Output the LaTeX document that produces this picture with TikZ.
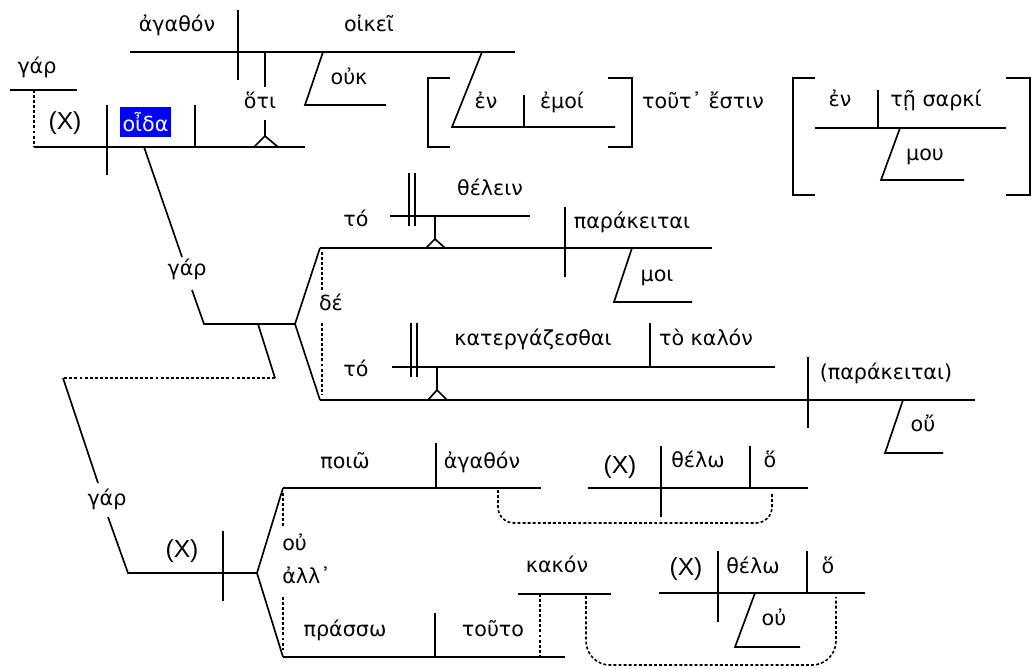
\documentclass[tikz,border=0pt]{standalone}
\usepackage{fontspec}
\setmainfont{DejaVu Sans}
\newfontfamily\latinfont{Liberation Sans}
\usetikzlibrary{calc}
\definecolor{hilite}{RGB}{0,0,255}
\tikzset{
  word/.style={anchor=mid, inner sep=0pt, font=\fontsize{15.5}{18}\selectfont},
  gap/.style={word, font=\latinfont\fontsize{18.5}{20}\selectfont},
  baseln/.style={line width=1.25pt},
  dotln/.style={line width=1.2pt, dash pattern=on 2.2pt off 1.6pt}
}

\begin{document}
\begin{tikzpicture}[x=0.75pt, y=-0.75pt]
\useasboundingbox (0,0) rectangle (1032,668);

% main clause: (X) oida
\draw[baseln] (10,90) -- (77,90);
\node[word] (gar1) at (37,70) {γάρ};
\draw[dotln] (34,90) -- (34,147);
\draw[baseln] (34,147) -- (305,147);
\draw[baseln] (107,105) -- (107,175);
\draw[baseln] (195,105) -- (195,147);
\node[gap] (subj1) at (65,126) {(X)};
\node[word, fill=hilite, text=white, minimum width=38pt, minimum height=22.5pt, anchor=center] (oida) at (145.5,122) {οἶδα};

% object clause on pedestal
\draw[baseln] (130,52) -- (515,52);
\draw[baseln] (238,10) -- (238,80);
\node[word] (agathon1) at (177,28) {ἀγαθόν};
\node[word] (oikei) at (369,28) {οἰκεῖ};
\draw[baseln] (323,52) -- (305,105) -- (386,105);
\node[word] (ouk) at (349,81) {οὐκ};
\draw[baseln] (265,52) -- (265,87);
\node[word] (hoti) at (260,105) {ὅτι};
\draw[baseln] (265,120) -- (265,136) (254,147) -- (265,136) -- (278,147);

% en emoi, in brackets
\draw[baseln] (482,52) -- (452,127) -- (615,127);
\draw[baseln] (524,95) -- (524,127);
\node[word] (en1) at (486,105) {ἐν};
\node[word] (emoi) at (562,105) {ἐμοί};
\draw[baseln] (450,78) -| (428,147) -- (450,147);
\draw[baseln] (608,78) -| (632,147) -- (608,147);
\node[word] (toutestin) at (703,105) {τοῦτ᾽ ἔστιν};

% en te sarki mou, in brackets
\draw[baseln] (815,78) -| (793,195) -- (815,195);
\draw[baseln] (1006,78) -| (1030,195) -- (1006,195);
\draw[baseln] (815,128) -- (1006,128);
\draw[baseln] (878,90) -- (878,128);
\node[word] (en2) at (840,103) {ἐν};
\node[word] (sarki) at (936,103) {τῇ σαρκί};
\draw[baseln] (900,128) -- (881,180) -- (964,180);
\node[word] (mou) at (925,157) {μου};

% gar: second clause
\draw[baseln] (144,147) -- (182,257);
\node[word] (gar2) at (187,272) {γάρ};
\draw[baseln] (192,290) -- (204,324) -- (295,324);
\draw[baseln] (258,324) -- (275,378);
\draw[dotln] (275,378) -- (63,378);
\draw[baseln] (320,248) -- (295,324) -- (320,400);
\draw[dotln] (322,252) -- (322,290) (322,323) -- (322,395);
\node[word] (de) at (331,307) {δέ};

% upper branch: to thelein parakeitai moi
\draw[baseln] (320,248) -- (712,248);
\draw[baseln] (565,207) -- (565,277);
\node[word] (parakeitai) at (632,225) {παράκειται};
\draw[baseln] (632,248) -- (614,302) -- (692,302);
\node[word] (moi) at (657,278) {μοι};
\node[word] (to1) at (356,223) {τό};
\draw[baseln] (390,216) -- (530,216);
\draw[baseln] (409,173) -- (409,226) (415,173) -- (415,226);
\node[word] (thelein) at (490,192) {θέλειν};
\draw[baseln] (435,216) -- (435,239) (426,248) -- (435,239) -- (445,248);

% lower branch: to katergazesthai to kalon (parakeitai) ou
\draw[baseln] (320,400) -- (975,400);
\draw[baseln] (808,357) -- (808,428);
\node[word] (parakeitai2) at (886,376) {(παράκειται)};
\draw[baseln] (903,400) -- (885,453) -- (943,453);
\node[word] (ou1) at (923,428) {οὔ};
\node[word] (to2) at (356,373) {τό};
\draw[baseln] (392,367) -- (775,367);
\draw[baseln] (411,323) -- (411,377) (417,323) -- (417,377);
\draw[baseln] (650,323) -- (650,367);
\node[word] (katerg) at (533,342) {κατεργάζεσθαι};
\node[word] (tokalon) at (706,342) {τὸ καλόν};
\draw[baseln] (437,367) -- (437,390) (428,400) -- (437,390) -- (447,400);

% gar: third clause
\draw[baseln] (63,378) -- (98,483);
\node[word] (gar3) at (107,502) {γάρ};
\draw[baseln] (108,517) -- (128,573) -- (257,573);
\draw[baseln] (223,531) -- (223,601);
\node[gap] (subj3) at (182,554) {(X)};
\draw[baseln] (283,488) -- (257,573) -- (283,657);
\draw[dotln] (283,493) -- (283,527) (283,597) -- (283,650);
\node[word, anchor=base west] (ou2) at (282,550) {οὐ};
\node[word, anchor=base west] (all) at (282,583) {ἀλλ᾽};

\draw[baseln] (283,488) -- (541,488);
\draw[baseln] (436,443) -- (436,488);
\node[word] (poio) at (345,465) {ποιῶ};
\node[word] (agathon2) at (482,465) {ἀγαθόν};
\draw[baseln] (283,657) -- (565,657);
\draw[baseln] (435,613) -- (435,657);
\node[word] (prasso) at (345,633) {πράσσω};
\node[word] (touto) at (493,633) {τοῦτο};
\draw[baseln] (518,594) -- (611,594);
\node[word] (kakon) at (557,569) {κακόν};
\draw[dotln] (540,594) -- (540,657);

% relative clauses: (X) thelo ho
\draw[baseln] (588,488) -- (808,488);
\draw[baseln] (661,446) -- (661,517);
\draw[baseln] (750,446) -- (750,488);
\node[gap] (subj4) at (620,470) {(X)};
\node[word] (thelo1) at (698,464) {θέλω};
\node[word] (ho1) at (770,464) {ὅ};
\draw[dotln, rounded corners=12pt] (498,490) |- (772,523) -- (772,492);

\draw[baseln] (659,593) -- (865,593);
\draw[baseln] (718,551) -- (718,622);
\draw[baseln] (807,551) -- (807,593);
\node[gap] (subj5) at (686,572) {(X)};
\node[word] (thelo2) at (753,570) {θέλω};
\node[word] (ho2) at (828,570) {ὅ};
\draw[baseln] (755,593) -- (735,647) -- (800,647);
\node[word] (ou3) at (774,622) {οὐ};
\draw[dotln, rounded corners=18pt] (586,596) |- (836,665) -- (836,597);
\end{tikzpicture}
\end{document}
